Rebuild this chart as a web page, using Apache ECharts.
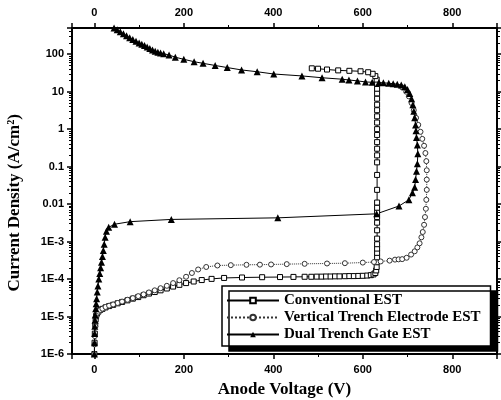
<!DOCTYPE html>
<html>
<head>
<meta charset="utf-8">
<script src="https://cdn.jsdelivr.net/npm/echarts@6/dist/echarts.min.js"></script>
<style>
  html, body { margin: 0; padding: 0; background: #fff; }
  #main { width: 501px; height: 400px; }
</style>
</head>
<body>
<div id="main"></div>
<script>
// Conventional EST
var convV = [0, 0.5, 1, 2, 3, 4, 6, 9, 13, 18, 25, 33, 42, 52, 62, 74, 86, 98, 110, 122, 135, 148, 162, 176, 190, 205, 222, 240, 262, 290, 330, 375, 415, 445, 470, 485, 497, 508, 518, 528, 538, 548, 560, 570, 580, 590, 600, 610, 618, 624, 628, 630, 631, 631, 632, 632, 632, 632, 632, 632, 632, 632, 632, 632, 632, 632, 632, 632, 632, 632, 632, 632, 632, 632, 632, 632, 632, 632, 632, 632, 632, 631, 628, 622, 612, 595, 570, 545, 520, 500, 486];
var convJ = [1e-6, 2e-6, 3.5e-6, 6e-6, 8.5e-6, 1.05e-5, 1.2e-5, 1.35e-5, 1.5e-5, 1.6e-5, 1.75e-5, 1.9e-5, 2.05e-5, 2.25e-5, 2.45e-5, 2.7e-5, 3e-5, 3.3e-5, 3.7e-5, 4.1e-5, 4.5e-5, 5e-5, 5.6e-5, 6.3e-5, 7e-5, 7.8e-5, 8.6e-5, 9.4e-5, 1.01e-4, 1.07e-4, 1.1e-4, 1.12e-4, 1.13e-4, 1.14e-4, 1.15e-4, 1.15e-4, 1.16e-4, 1.16e-4, 1.17e-4, 1.17e-4, 1.18e-4, 1.18e-4, 1.19e-4, 1.2e-4, 1.2e-4, 1.21e-4, 1.22e-4, 1.24e-4, 1.27e-4, 1.33e-4, 1.45e-4, 1.7e-4, 2.1e-4, 2.8e-4, 3.8e-4, 5e-4, 6.5e-4, 8.5e-4, 1.2e-3, 2e-3, 3.2e-3, 4.5e-3, 6e-3, 8e-3, 0.011, 0.024, 0.06, 0.13, 0.2, 0.3, 0.45, 0.7, 1, 1.5, 2.2, 3.2, 4.5, 6.5, 9, 12, 16, 21, 26, 30, 33, 35, 36, 37, 39, 41, 42];

// Vertical Trench Electrode EST
var vteV = [0, 0.5, 1, 2, 3, 4, 6, 9, 13, 18, 25, 33, 42, 52, 62, 74, 86, 98, 110, 122, 135, 148, 162, 176, 190, 205, 218, 232, 250, 275, 305, 340, 370, 395, 430, 470, 520, 560, 600, 625, 640, 660, 672, 680, 688, 698, 708, 716, 722, 727, 731, 734, 737, 739, 741, 742, 743, 743, 743, 742, 740, 737, 733, 729, 724, 719, 714, 709, 703, 697, 688];
var vteJ = [1e-6, 1.8e-6, 3e-6, 5.5e-6, 8e-6, 1e-5, 1.2e-5, 1.35e-5, 1.5e-5, 1.62e-5, 1.8e-5, 1.95e-5, 2.1e-5, 2.3e-5, 2.5e-5, 2.8e-5, 3.1e-5, 3.5e-5, 3.9e-5, 4.4e-5, 5e-5, 5.7e-5, 6.6e-5, 7.8e-5, 9.3e-5, 1.15e-4, 1.45e-4, 1.8e-4, 2.1e-4, 2.3e-4, 2.35e-4, 2.4e-4, 2.42e-4, 2.45e-4, 2.5e-4, 2.55e-4, 2.6e-4, 2.65e-4, 2.75e-4, 2.85e-4, 2.95e-4, 3.1e-4, 3.3e-4, 3.35e-4, 3.4e-4, 3.7e-4, 4.5e-4, 5.5e-4, 7e-4, 9e-4, 1.3e-3, 1.8e-3, 2.8e-3, 4.5e-3, 7.5e-3, 0.013, 0.024, 0.045, 0.08, 0.14, 0.23, 0.36, 0.55, 0.85, 1.3, 2, 3.2, 5, 7.5, 10, 13];

// Dual Trench Gate EST
var dtgV = [0, 0.3, 0.6, 1, 1.5, 2, 3, 4, 5, 6.5, 8, 10, 12, 14, 16, 18, 20, 22, 24, 27, 32, 45, 80, 172, 410, 631, 681, 703, 711, 716, 718, 720, 722, 723, 722, 720, 719, 718, 716, 714, 712, 709, 705, 700, 694, 686, 677, 668, 658, 646, 636, 621, 606, 588, 569, 554, 509, 464, 401, 364, 329, 297, 270, 243, 223, 200, 181, 167, 155, 148, 142, 136, 130, 124, 118, 112, 106, 100, 93, 86, 79, 72, 65, 58, 51, 44];
var dtgJ = [1e-6, 2e-6, 3.5e-6, 5.5e-6, 8e-6, 1.1e-5, 1.6e-5, 2.2e-5, 3e-5, 4.5e-5, 6.5e-5, 1e-4, 1.4e-4, 2e-4, 2.8e-4, 4e-4, 5.8e-4, 8.5e-4, 1.3e-3, 1.9e-3, 2.4e-3, 2.9e-3, 3.4e-3, 3.9e-3, 4.3e-3, 5.5e-3, 8.9e-3, 0.013, 0.02, 0.028, 0.045, 0.075, 0.12, 0.22, 0.38, 0.6, 0.9, 1.3, 2, 3, 4.5, 6.5, 9, 11.5, 13.5, 15, 15.8, 16.3, 16.8, 17.2, 17.5, 17.8, 18.2, 19.4, 20.5, 21.5, 23.5, 26.3, 29.6, 34, 38, 44, 50, 57, 63, 73, 83, 95, 103, 108, 113, 120, 130, 142, 156, 170, 185, 200, 220, 245, 275, 310, 350, 400, 450, 500];

var seriesNames = ['Conventional EST', 'Vertical Trench Electrode EST', 'Dual Trench Gate EST'];
var yTickLabels = { '-6': '1E-6', '-5': '1E-5', '-4': '1E-4', '-3': '1E-3', '-2': '0.01', '-1': '0.1', '0': '1', '1': '10', '2': '100' };

function zip(xs, ys) {
  return xs.map(function (x, i) { return [x, ys[i]]; });
}

var myChart = echarts.init(document.getElementById('main'));

var tickFont = { fontFamily: 'Liberation Sans', fontWeight: 'bold', fontSize: 11, color: '#000' };
var axisLine = { show: true, onZero: false, lineStyle: { color: '#000', width: 2 } };
var axisTick = { show: true, length: 5, lineStyle: { width: 1.5, color: '#000' } };

function yLabel(v) {
  var e = Math.round(Math.log10(v));
  if (Math.abs(Math.log10(v) - e) > 1e-6) return '';
  return yTickLabels[String(e)] || '';
}

var option = {
  backgroundColor: '#fff',
  animation: false,
  grid: { left: 72, right: 4, top: 28, bottom: 46, outerBoundsMode: 'none' },
  xAxis: [
    {
      type: 'value', min: -50, max: 900, splitNumber: 5,
      axisLine: axisLine, axisTick: axisTick,
      minorTick: { show: true, splitNumber: 2, length: 3, lineStyle: { color: '#000' } },
      splitLine: { show: false },
      axisLabel: Object.assign({ showMinLabel: false, showMaxLabel: false, margin: 10 }, tickFont),
      name: 'Anode Voltage (V)', nameLocation: 'middle', nameGap: 27,
      nameTextStyle: { fontFamily: 'Liberation Serif', fontWeight: 'bold', fontSize: 17, color: '#000' }
    },
    {
      type: 'value', position: 'top', min: -50, max: 900, splitNumber: 5,
      axisLine: axisLine, axisTick: axisTick,
      minorTick: { show: true, splitNumber: 2, length: 3, lineStyle: { color: '#000' } },
      splitLine: { show: false },
      axisLabel: Object.assign({ showMinLabel: false, showMaxLabel: false, margin: 10 }, tickFont)
    }
  ],
  yAxis: [
    {
      type: 'log', logBase: 10, min: 1e-6, max: 500, splitNumber: 10,
      axisLine: axisLine, axisTick: axisTick,
      minorTick: { show: true, splitNumber: 9, length: 3, lineStyle: { color: '#000' } },
      splitLine: { show: false },
      axisLabel: Object.assign({ showMaxLabel: false, margin: 8, formatter: yLabel }, tickFont)
    },
    {
      type: 'log', logBase: 10, min: 1e-6, max: 500, splitNumber: 10, position: 'right',
      axisLine: axisLine, axisTick: axisTick,
      minorTick: { show: true, splitNumber: 9, length: 3, lineStyle: { color: '#000' } },
      splitLine: { show: false },
      axisLabel: { show: false }
    }
  ],
  legend: {
    orient: 'vertical', left: 222, top: 286, width: 262,
    padding: [7, 10, 4, 4], itemGap: 2, itemWidth: 52, itemHeight: 7,
    backgroundColor: '#fff', borderColor: '#000', borderWidth: 1.5,
    shadowColor: '#000', shadowBlur: 0, shadowOffsetX: 7, shadowOffsetY: 5,
    textStyle: { fontFamily: 'Liberation Serif', fontWeight: 'bold', fontSize: 15, color: '#000' },
    data: seriesNames
  },
  graphic: [
    {
      type: 'text', left: 6, top: 114, rotation: Math.PI / 2,
      style: { text: 'Current Density (A/cm²)', font: 'bold 17px "Liberation Serif"', fill: '#000' }
    }
  ],
  series: [
    {
      name: seriesNames[0], type: 'line', data: zip(convV, convJ),
      symbol: 'rect', symbolSize: 5, showAllSymbol: true,
      itemStyle: { color: '#fff', borderColor: '#000', borderWidth: 1 },
      lineStyle: { color: '#000', width: 1, type: 'solid' }
    },
    {
      name: seriesNames[1], type: 'line', data: zip(vteV, vteJ),
      symbol: 'circle', symbolSize: 5, showAllSymbol: true,
      itemStyle: { color: '#fff', borderColor: '#333', borderWidth: 1 },
      lineStyle: { color: '#333', width: 1, type: 'dotted' }
    },
    {
      name: seriesNames[2], type: 'line', data: zip(dtgV, dtgJ),
      symbol: 'triangle', symbolSize: 7, showAllSymbol: true,
      itemStyle: { color: '#000', borderColor: '#000', borderWidth: 0 },
      lineStyle: { color: '#000', width: 1, type: 'solid' }
    }
  ]
};

option && myChart.setOption(option);
</script>
</body>
</html>
